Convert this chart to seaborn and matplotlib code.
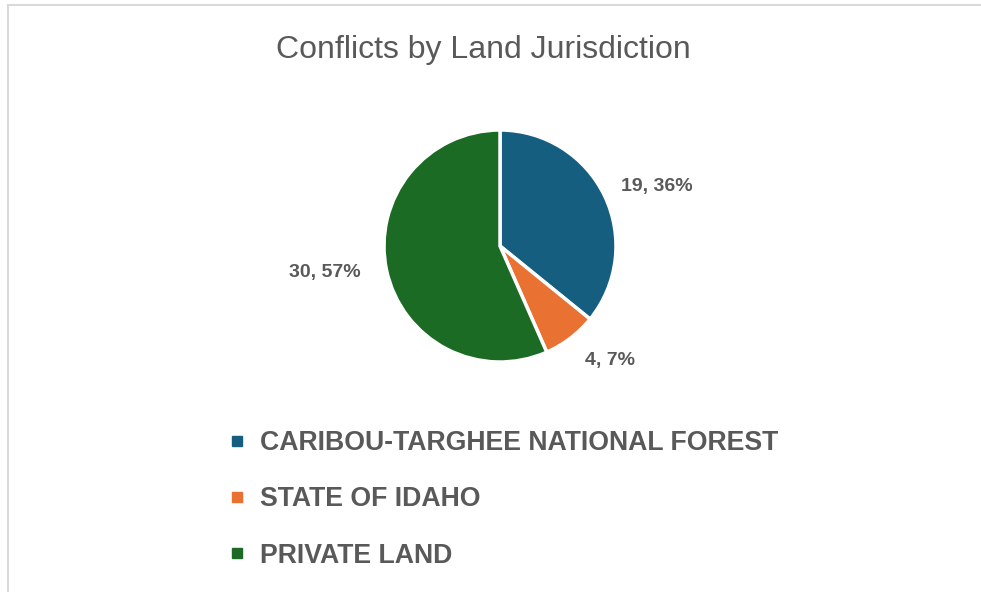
import matplotlib
matplotlib.use("Agg")
import matplotlib.pyplot as plt
import seaborn as sns
from matplotlib.lines import Line2D
from matplotlib.patches import Rectangle

categories = ["CARIBOU-TARGHEE NATIONAL FOREST", "STATE OF IDAHO", "PRIVATE LAND"]
values = [19, 4, 30]
percents = [36, 7, 57]
colors = ["#165E80", "#E97132", "#1B6B24"]
title = "Conflicts by Land Jurisdiction"

sns.set_theme(style="white")
plt.rcParams["font.family"] = ["Liberation Sans", "DejaVu Sans"]

W, H = 981, 592
fig = plt.figure(figsize=(W / 100, H / 100), dpi=100)
fig.patch.set_facecolor("white")

# outer frame
fig.add_artist(Rectangle((8 / W, -0.01), 1.2, (H - 5) / H + 0.01, transform=fig.transFigure,
                         fill=False, edgecolor="#D9D9D9", linewidth=1.5))

cx, cy, r = 500, 246, 116
ax = fig.add_axes([(cx - r) / W, (H - cy - r) / H, 2 * r / W, 2 * r / H])
wedges, _ = ax.pie(values, colors=colors, startangle=90, counterclock=False,
                   wedgeprops=dict(edgecolor="white", linewidth=2.5), radius=1)
ax.set_xlim(-1, 1)
ax.set_ylim(-1, 1)
ax.set_aspect("equal")
ax.axis("off")

labels = [f"{v}, {p}%" for v, p in zip(values, percents)]
label_pos = [(657, 186), (610, 361), (325, 273)]
for lab, (px, py) in zip(labels, label_pos):
    fig.text(px / W, 1 - py / H, lab, ha="center", va="center", fontsize=14,
             fontweight="bold", color="#595959")

fig.text(483 / W, 1 - 50 / H, title, ha="center", va="center", fontsize=23,
         color="#595959")

handles = [Line2D([0], [0], marker="s", linestyle="none", markersize=7,
                  markerfacecolor=c, markeredgecolor=c) for c in colors]
leg = fig.legend(handles, categories, loc="upper left", bbox_to_anchor=(228 / W, 1 - 430 / H),
                 frameon=False, prop=dict(family="Liberation Sans", weight="bold", size=19.2),
                 labelcolor="#595959", labelspacing=1.14, handletextpad=0.5, handlelength=0.7,
                 borderaxespad=0, borderpad=0)

fig.savefig("out.png", dpi=100, facecolor="white")
